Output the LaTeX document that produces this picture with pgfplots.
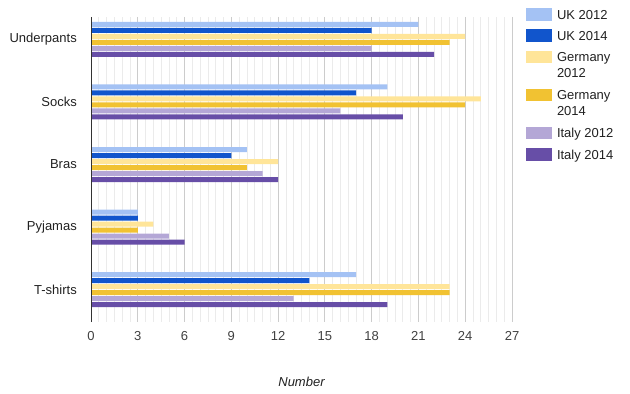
\documentclass[border=0pt]{standalone}
\usepackage{fontspec}
\setmainfont{Liberation Sans}
\usepackage{pgfplots}
\pgfplotsset{compat=1.18}
\definecolor{ukA}{HTML}{A4C2F4}
\definecolor{ukB}{HTML}{1155CC}
\definecolor{deA}{HTML}{FFE599}
\definecolor{deB}{HTML}{F1C232}
\definecolor{itA}{HTML}{B4A7D6}
\definecolor{itB}{HTML}{674EA7}
\newcommand{\fs}{\fontsize{13bp}{15.3bp}\selectfont}
\newcommand{\ls}{\rule[-4bp]{0pt}{15.3bp}}
\newcommand{\two}[2]{\parbox[t]{70bp}{\fs #1\\#2\rule[-5.4bp]{0pt}{15.3bp}}}
\begin{document}
\begin{tikzpicture}
\useasboundingbox (0,0) rectangle (630bp,394bp);
\begin{axis}[
  at={(91bp,72bp)}, anchor=south west,
  scale only axis, width=421bp, height=305bp,
  xbar, bar width=5bp,
  xmin=0, xmax=27,
  ymin=-0.36, ymax=4.52, y dir=reverse,
  ytick={0,1,2,3,4},
  yticklabels={Underpants,Socks,Bras,Pyjamas,T-shirts},
  xtick={0,3,...,27}, minor x tick num=5,
  xmajorgrids, xminorgrids, ymajorgrids=false,
  major grid style={draw=black!20, line width=0.8bp},
  minor grid style={draw=black!8, line width=0.8bp},
  major tick length=0pt, minor tick length=0pt,
  axis line style={draw=none},
  /pgf/number format/assume math mode=true,
  xticklabel style={font=\fs, text=black!75, inner sep=0pt, anchor=north, yshift=-9.7bp},
  yticklabel style={font=\fs, text=black!87, inner sep=0pt, anchor=east, xshift=-14bp},
  xlabel={Number},
  xlabel style={at={(axis description cs:0.5,0)}, anchor=base, yshift=-64bp, font=\fs\itshape, text=black!87, inner sep=0pt},
  legend image code/.code={\path[#1, draw=none] (0bp,-1.4bp) rectangle (26bp,11.3bp);},
  legend style={at={(axis description cs:1,1)}, anchor=north west, xshift=14bp, yshift=9bp,
    draw=none, fill=none, inner sep=0pt, outer sep=0pt, row sep=6bp, column sep=5bp,
    font=\fs, text=black!87,
    nodes={inner sep=0pt, outer sep=0pt, anchor=base west, text height=, text depth=}},
  after end axis/.code={\draw[black!80, line width=1bp] (rel axis cs:0,0) -- (rel axis cs:0,1);},
]
\addplot[fill=ukA, draw=none, bar shift=15bp] coordinates {(21,0) (19,1) (10,2) (3,3) (17,4)};
\addlegendentry{UK 2012\ls}
\addplot[fill=ukB, draw=none, bar shift=9bp] coordinates {(18,0) (17,1) (9,2) (3,3) (14,4)};
\addlegendentry{UK 2014\ls}
\addplot[fill=deA, draw=none, bar shift=3bp] coordinates {(24,0) (25,1) (12,2) (4,3) (23,4)};
\addlegendentry{\two{Germany}{2012}}
\addplot[fill=deB, draw=none, bar shift=-3bp] coordinates {(23,0) (24,1) (10,2) (3,3) (23,4)};
\addlegendentry{\two{Germany}{2014}}
\addplot[fill=itA, draw=none, bar shift=-9bp] coordinates {(18,0) (16,1) (11,2) (5,3) (13,4)};
\addlegendentry{Italy 2012\ls}
\addplot[fill=itB, draw=none, bar shift=-15bp] coordinates {(22,0) (20,1) (12,2) (6,3) (19,4)};
\addlegendentry{Italy 2014\ls}
\end{axis}
\end{tikzpicture}
\end{document}
